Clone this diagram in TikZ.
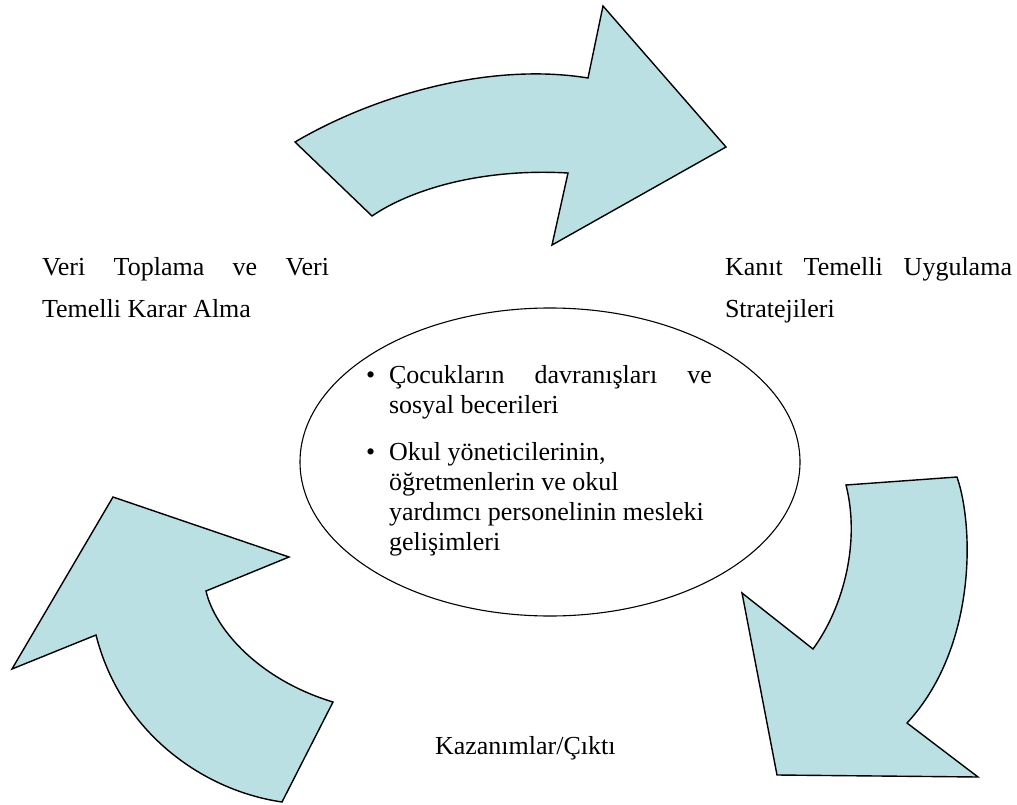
\documentclass[tikz,border=0pt]{standalone}
\usepackage{fontspec}
\setmainfont{Liberation Serif}
\usetikzlibrary{shapes.geometric}
\definecolor{arrowfill}{RGB}{187,224,227}
\tikzset{
  bigarrow/.style={draw=black, fill=arrowfill, line width=1.4pt, line join=miter},
  oval/.style={draw=black, ellipse, line width=1.1pt, inner sep=0pt, minimum width=500pt, minimum height=308pt},
  txt/.style={inner sep=0pt, outer sep=0pt, anchor=base west, font=\fontsize{26}{30}\selectfont}
}
\begin{document}
\begin{tikzpicture}[x=1pt,y=-1pt]
\useasboundingbox (0,0) rectangle (1017,805);
% top arrow
\draw[bigarrow] (295,142) .. controls (375,95) and (490,62) .. (588,78) -- (603,6) -- (726,147) -- (552,245) -- (568,173) .. controls (480,168) and (410,190) .. (372,216) -- cycle;
% right arrow
\draw[bigarrow] (957,477) .. controls (975,530) and (975,650) .. (907,723) -- (978,777) -- (777,775) -- (742,593) -- (813,649) .. controls (845,605) and (860,540) .. (846,485) -- cycle;
% left arrow
\draw[bigarrow] (113,497) -- (289,557) -- (206,591) .. controls (215,630) and (260,680) .. (333,702) -- (282,802) .. controls (200,790) and (120,730) .. (96,635) -- (12,669) -- cycle;
% ellipse
\node[oval] (ell) at (550,462) {};
% side labels
\node[txt] (vt1) at (42,275) {\hbox to 287pt{Veri\hfill Toplama\hfill ve\hfill Veri}};
\node[txt] (vt2) at (42,317) {Temelli Karar Alma};
\node[txt] (kt1) at (725,275) {\hbox to 287pt{Kanıt\hfill Temelli\hfill Uygulama}};
\node[txt] (kt2) at (725,317) {Stratejileri};
\node[txt] (kaz) at (435,754) {Kazanımlar/Çıktı};
% bullets inside ellipse
\node[txt] (b1) at (366,383) {\textbullet};
\node[txt] (c1) at (389,383) {\hbox to 323pt{Çocukların\hfill davranışları\hfill ve}};
\node[txt] (c2) at (389,413) {sosyal becerileri};
\node[txt] (b2) at (366,460) {\textbullet};
\node[txt] (o1) at (389,460) {Okul yöneticilerinin,};
\node[txt] (o2) at (389,490) {öğretmenlerin ve okul};
\node[txt] (o3) at (389,520) {yardımcı personelinin mesleki};
\node[txt] (o4) at (389,550) {gelişimleri};
\end{tikzpicture}
\end{document}
